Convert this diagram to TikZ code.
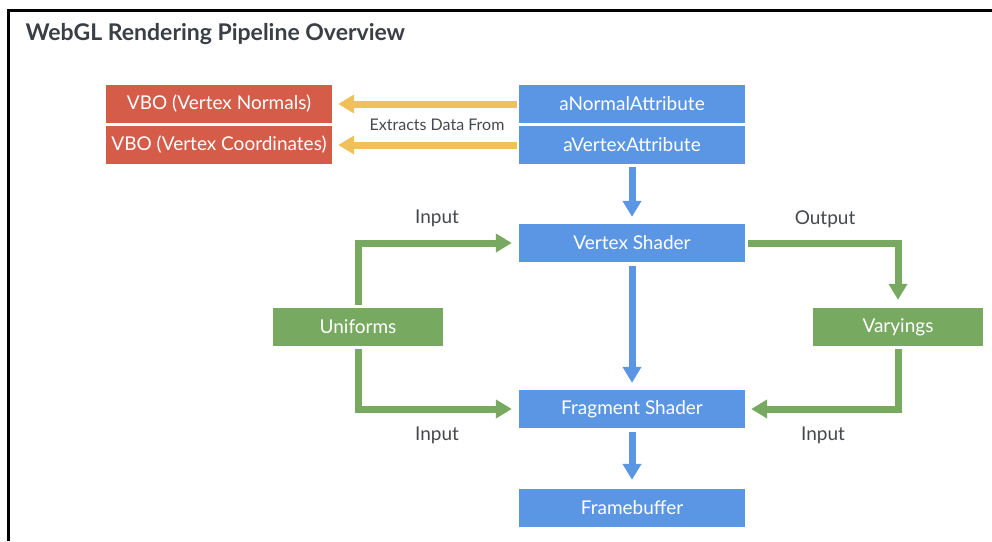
\documentclass[tikz,border=0pt]{standalone}
\usepackage{fontspec}
\setmainfont{Lato}
\usetikzlibrary{arrows.meta}
\definecolor{cblue}{HTML}{5A96E3}
\definecolor{cred}{HTML}{D45C49}
\definecolor{cgreen}{HTML}{78A961}
\definecolor{cyellow}{HTML}{F0C15B}
\definecolor{ctext}{HTML}{45494E}
\definecolor{ctitle}{HTML}{3A3F45}
\tikzset{
  box/.style={minimum height=38pt, inner sep=0pt, text=white, font=\fontsize{19}{22}\selectfont},
  bluebox/.style={box, fill=cblue, minimum width=226pt},
  redbox/.style={box, fill=cred, minimum width=226pt},
  greenbox/.style={box, fill=cgreen, minimum width=170pt},
  flow/.style={line width=7pt, -{Triangle[width=18pt,length=16pt]}},
  lbl/.style={text=ctext, font=\fontsize{19}{22}\selectfont},
  smalllbl/.style={text=ctext, font=\fontsize{16}{19}\selectfont}
}
\begin{document}
\begin{tikzpicture}[x=1pt,y=-1pt]
\useasboundingbox (0,0) rectangle (992,541);
\fill[white] (0,0) rectangle (992,541);
\draw[line width=3pt] (8,541) -- (8,10) -- (992,10);
\node[anchor=west, text=ctitle, font=\fontsize{23}{27}\selectfont\bfseries] (title) at (22,34) {WebGL Rendering Pipeline Overview};

\node[redbox] (vn) at (219,104) {VBO (Vertex Normals)};
\node[redbox] (vc) at (219,145) {VBO (Vertex Coordinates)};
\node[bluebox] (an) at (632,104) {aNormalAttribute};
\node[bluebox] (av) at (632,145) {aVertexAttribute};
\node[bluebox] (vs) at (632,243) {Vertex Shader};
\node[greenbox] (un) at (358,327) {Uniforms};
\node[greenbox] (va) at (898,327) {Varyings};
\node[bluebox] (fs) at (632,409) {Fragment Shader};
\node[bluebox] (fb) at (632,508) {Framebuffer};

\draw[flow, cyellow, shorten <=2pt, shorten >=6pt] (an.west) -- (vn.east);
\draw[flow, cyellow, shorten <=2pt, shorten >=6pt] (av.west) -- (vc.east);
\node[smalllbl] (ex) at (437,125) {Extracts Data From};

\draw[flow, cblue, shorten <=3pt, shorten >=7pt] (av.south) -- (vs.north);
\draw[flow, cblue, shorten <=4pt, shorten >=7pt] (vs.south) -- (fs.north);
\draw[flow, cblue, shorten <=4pt, shorten >=9pt] (fs.south) -- (fb.north);

\draw[flow, cgreen, shorten <=3pt, shorten >=7pt] (un.north) |- (vs.west);
\draw[flow, cgreen, shorten <=3pt, shorten >=7pt] (un.south) |- (fs.west);
\draw[flow, cgreen, shorten <=3pt, shorten >=8pt] (vs.east) -| (va.north);
\draw[flow, cgreen, shorten <=3pt, shorten >=6pt] (va.south) |- (fs.east);

\node[lbl] (in1) at (437,218) {Input};
\node[lbl] (in2) at (437,435) {Input};
\node[lbl] (out) at (825,219) {Output};
\node[lbl] (in3) at (823,435) {Input};
\end{tikzpicture}
\end{document}
